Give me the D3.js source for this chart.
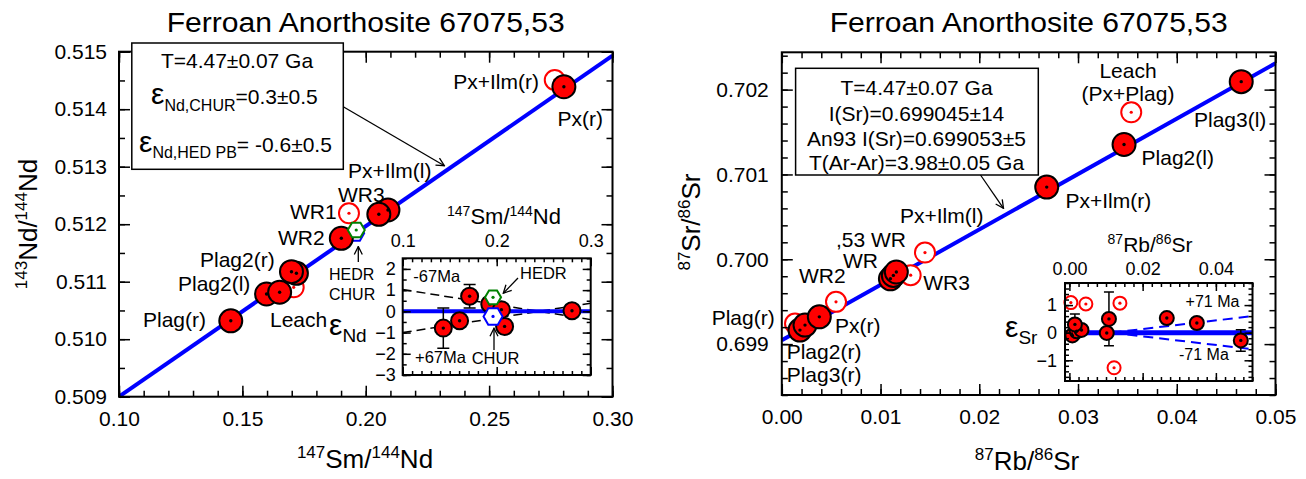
<!DOCTYPE html>
<html>
<head>
<meta charset="utf-8">
<script src="https://cdn.jsdelivr.net/npm/d3@7"></script>
<style>
  body { margin: 0; background: #fff; }
  svg text { font-family: "Liberation Sans", Arial, Helvetica, sans-serif; fill: #000; }
</style>
</head>
<body>
<svg id="chart" width="1306" height="479"></svg>
<script>
// ---- Sm-Nd panel data ----
const ndSlope = 0.02966;          // isochron slope (4.47 Ga)
const ndIntercept = 0.506034;     // 143Nd/144Nd at Sm/Nd = 0
const ndFilled = [                // [147Sm/144Nd, 143Nd/144Nd]
  [0.1453, 0.51032], [0.1598, 0.510786], [0.1651, 0.510816],
  [0.1719, 0.511146], [0.1699, 0.511174], [0.1901, 0.511755],
  [0.2090, 0.512247], [0.2053, 0.512172], [0.2803, 0.514391]
];
const ndOpen = [[0.1708, 0.510903], [0.1932, 0.51219], [0.2766, 0.514508]];
const ndChur = [0.1959, 0.511842];
const ndHedr = [0.19615, 0.511899];
// inset: epsilon Nd vs 147Sm/144Nd, [x, eps, err]
const epsNd = [
  [0.1432, -0.79, 0.95], [0.1605, -0.44, 0], [0.1712, 0.71, 0.55],
  [0.1926, 0.35, 0], [0.2050, 0.08, 0], [0.2084, -0.71, 0], [0.2801, 0.03, 0]
];
const epsNdChur = [0.1961, -0.24];
const epsNdHedr = [0.1961, 0.66];
const ndMinus67 = [[0.10, 1.03], [0.30, -0.39]];
const ndPlus67 = [[0.10, -1.0], [0.30, 0.38]];

// ---- Rb-Sr panel data ----
const srIntercept = 0.699045;
const srSlope = 0.0653;
const srFilled = [                // [87Rb/86Sr, 87Sr/86Sr]
  [0.00184, 0.699165], [0.00235, 0.699224], [0.0038, 0.699321],
  [0.0110, 0.69977], [0.0113, 0.69981], [0.0116, 0.69985],
  [0.02683, 0.700851], [0.03466, 0.701353], [0.04653, 0.702094]
];
const srOpen = [
  [0.00134, 0.699243], [0.00549, 0.699498], [0.01305, 0.699812],
  [0.0145, 0.700079], [0.03539, 0.701733]
];
const epsSrFilled = [
  [0.0008, -0.1, 0], [0.0020, 0.05, 0], [0.0033, 0.1, 0], [0.0015, 0.3, 0.38],
  [0.0102, -0.01, 0], [0.0108, 0.5, 0.97], [0.0266, 0.53, 0],
  [0.0348, 0.35, 0], [0.0468, -0.28, 0.39]
];
const epsSrOpen = [[0.0004, 1.09], [0.0045, 1.04], [0.0138, 1.07], [0.0122, -1.27]];
const srPlus71 = [[0.0115, 0], [0.05, 0.6]];
const srMinus71 = [[0.0115, 0], [0.05, -0.6]];

// ---- tick values ----
const ndXMajor = [0.10, 0.15, 0.20, 0.25, 0.30];
const ndYMajor = [0.509, 0.510, 0.511, 0.512, 0.513, 0.514, 0.515];
const srXMajor = [0.00, 0.01, 0.02, 0.03, 0.04, 0.05];
const srYMajor = [0.699, 0.700, 0.701, 0.702];
const ndInsetXMajor = [0.1, 0.2, 0.3];
const ndInsetYMajor = [-3, -2, -1, 0, 1, 2];
const srInsetXMajor = [0.00, 0.02, 0.04];
const srInsetYMajor = [-1, 0, 1];

const svg = d3.select("#chart");
svg.append("rect").attr("width", 1306).attr("height", 479).attr("fill", "#fff");

svg.append("defs").append("marker")
  .attr("id", "arrow").attr("viewBox", "0 0 10 10")
  .attr("refX", 9).attr("refY", 5)
  .attr("markerWidth", 10).attr("markerHeight", 10)
  .attr("markerUnits", "userSpaceOnUse").attr("orient", "auto")
  .append("path").attr("d", "M1,1 L9,5 L1,9")
  .attr("fill", "none").attr("stroke", "#000").attr("stroke-width", 1.3);

const RED = "#ff0000", BLUE = "#0000ff", GREEN = "#008000";

function range(a, b, step) {
  const n = Math.round((b - a) / step);
  return d3.range(n + 1).map(i => +(a + i * step).toFixed(6));
}

// text with super/subscripts; parts = [string, kind, fontSize]
function rich(g, x, y, parts, o) {
  const t = g.append("text").attr("x", x).attr("y", y)
    .attr("font-size", o.size).attr("text-anchor", o.anchor || "start");
  if (o.rotate) t.attr("transform", `rotate(-90,${x},${y})`);
  let shift = 0;
  parts.forEach(([s, k, fs]) => {
    const target = k === "sup" ? -o.size * 0.38 : k === "sub" ? o.size * 0.3 : 0;
    t.append("tspan").attr("dy", target - shift)
      .attr("font-size", fs || o.size).text(s);
    shift = target;
  });
  return t;
}

function label(g, x, y, s, size, anchor) {
  g.append("text").attr("x", x).attr("y", y).attr("font-size", size)
    .attr("text-anchor", anchor || "start").text(s);
}

// ticks on all four sides pointing inward, plus frame
function frame(g, x, y, o) {
  const [xl, xr] = x.range(), [yb, yt] = y.range();
  const sides = [
    { axis: d3.axisBottom, s: x, t: `translate(0,${yb})`, major: o.xMajor, minor: o.xMinor, lab: o.bottom },
    { axis: d3.axisTop, s: x, t: `translate(0,${yt})`, major: o.xMajor, minor: o.xMinor, lab: o.top },
    { axis: d3.axisLeft, s: y, t: `translate(${xl},0)`, major: o.yMajor, minor: o.yMinor, lab: o.left },
    { axis: d3.axisRight, s: y, t: `translate(${xr},0)`, major: o.yMajor, minor: o.yMinor, lab: o.right }
  ];
  sides.forEach(sd => {
    const horiz = sd.s === x;
    g.append("g").attr("transform", sd.t)
      .call(sd.axis(sd.s).tickValues(sd.minor).tickSize(-o.minorLen).tickFormat(""))
      .call(a => a.select(".domain").remove())
      .call(a => a.selectAll("line").attr("stroke-width", 1.5));
    const ax = g.append("g").attr("transform", sd.t)
      .attr("font-size", null).attr("font-family", null)
      .call(sd.axis(sd.s).tickValues(sd.major).tickSize(-o.majorLen)
        .tickPadding(horiz ? o.xPad : o.yPad)
        .tickFormat(sd.lab ? d3.format(horiz ? o.xFmt : o.yFmt) : ""))
      .call(a => a.select(".domain").remove())
      .call(a => a.selectAll("line").attr("stroke-width", 1.5));
    ax.selectAll("text").attr("font-size", o.fontSize).attr("fill", "#000");
  });
  g.append("rect").attr("x", xl).attr("y", yt).attr("width", xr - xl).attr("height", yb - yt)
    .attr("fill", "none").attr("stroke", "#000").attr("stroke-width", 2);
}

function filled(g, data, x, y, r) {
  g.selectAll(null).data(data).join("circle")
    .attr("cx", d => x(d[0])).attr("cy", d => y(d[1])).attr("r", r)
    .attr("fill", RED).attr("stroke", "#000").attr("stroke-width", 2);
  g.selectAll(null).data(data).join("circle")
    .attr("cx", d => x(d[0])).attr("cy", d => y(d[1])).attr("r", 1.7).attr("fill", "#000");
}

function open(g, data, x, y, r) {
  g.selectAll(null).data(data).join("circle")
    .attr("cx", d => x(d[0])).attr("cy", d => y(d[1])).attr("r", r)
    .attr("fill", "#fff").attr("stroke", RED).attr("stroke-width", 2);
  g.selectAll(null).data(data).join("circle")
    .attr("cx", d => x(d[0])).attr("cy", d => y(d[1])).attr("r", 1.6).attr("fill", RED);
}

function hexagon(g, p, x, y, r, color) {
  const cx = x(p[0]), cy = y(p[1]);
  const pts = d3.range(6).map(i => [cx + r * Math.cos(i * Math.PI / 3), cy + r * Math.sin(i * Math.PI / 3)]);
  g.append("path").attr("d", d3.line()(pts) + "Z")
    .attr("fill", "#fff").attr("stroke", color).attr("stroke-width", 2);
  g.append("circle").attr("cx", cx).attr("cy", cy).attr("r", 1.6).attr("fill", color);
}

function errorBars(g, data, x, y, cap) {
  data.filter(d => d[2] > 0).forEach(d => {
    const cx = x(d[0]), top = y(d[1] + d[2]), bot = y(d[1] - d[2]);
    g.append("path")
      .attr("d", `M${cx},${top}V${bot}M${cx - cap},${top}H${cx + cap}M${cx - cap},${bot}H${cx + cap}`)
      .attr("stroke", "#000").attr("stroke-width", 1.5).attr("fill", "none");
  });
}

function arrow(g, x1, y1, x2, y2) {
  g.append("line").attr("x1", x1).attr("y1", y1).attr("x2", x2).attr("y2", y2)
    .attr("stroke", "#000").attr("stroke-width", 1.3).attr("marker-end", "url(#arrow)");
}

function title(g, cx) {
  g.append("text").attr("x", cx).attr("y", 32).attr("font-size", 27)
    .attr("text-anchor", "middle").attr("textLength", 398).attr("lengthAdjust", "spacingAndGlyphs")
    .text("Ferroan Anorthosite 67075,53");
}

// =================== LEFT PANEL: Sm-Nd ===================
const L = svg.append("g");
const xNd = d3.scaleLinear().domain([0.10, 0.30]).range([119, 612.5]);
const yNd = d3.scaleLinear().domain([0.509, 0.515]).range([396.7, 51.7]);

title(L, 365.7);

L.append("path")
  .attr("d", d3.line()(xNd.domain().map(v => [xNd(v), yNd(ndIntercept + ndSlope * v)])))
  .attr("stroke", BLUE).attr("stroke-width", 4).attr("fill", "none");

open(L, ndOpen, xNd, yNd, 10);
hexagon(L, ndChur, xNd, yNd, 8.5, BLUE);
filled(L, ndFilled, xNd, yNd, 11.5);
hexagon(L, ndHedr, xNd, yNd, 8.5, GREEN);

frame(L, xNd, yNd, {
  xMajor: ndXMajor, xMinor: range(0.10, 0.30, 0.01),
  yMajor: ndYMajor, yMinor: range(0.509, 0.515, 0.0005),
  majorLen: 11, minorLen: 6, bottom: true, left: true,
  xFmt: ".2f", yFmt: ".3f", xPad: 14, yPad: 12, fontSize: 21
});

// point labels
[["Px+Ilm(r)", 539, 89, "end"], ["Px(r)", 557.6, 126], ["Px+Ilm(l)", 348, 177.5],
 ["WR3", 338, 201.5], ["WR1", 290, 218.5], ["WR2", 278, 244.5], ["Plag2(r)", 200, 266.7],
 ["Plag2(l)", 178, 291], ["Plag(r)", 143, 326.7], ["Leach", 270, 326.7]]
  .forEach(([s, x, y, a]) => label(L, x, y, s, 21, a));
label(L, 329, 280, "HEDR", 16);
label(L, 329, 300, "CHUR", 16);
arrow(L, 358.3, 262, 358.3, 246.5);

// parameter box
L.append("rect").attr("x", 131.8).attr("y", 43).attr("width", 211.5).attr("height", 126.3)
  .attr("fill", "#fff").attr("stroke", "#000").attr("stroke-width", 1.5);
label(L, 237, 68.3, "T=4.47±0.07 Ga", 21, "middle");
rich(L, 151, 104.3, [["ε", "", 30], ["Nd,CHUR", "sub", 16], ["=0.3±0.5", "", 21]], { size: 21 });
rich(L, 139, 151.7, [["ε", "", 30], ["Nd,HED PB", "sub", 16], ["= -0.6±0.5", "", 21]], { size: 21 });
arrow(L, 343.3, 106.7, 444.4, 165.7);

// axis titles
rich(L, 365, 468, [["147", "sup", 17], ["Sm/", ""], ["144", "sup", 17], ["Nd", ""]], { size: 26, anchor: "middle" });
rich(L, 37, 224, [["143", "sup", 17], ["Nd/", ""], ["144", "sup", 17], ["Nd", ""]], { size: 26, anchor: "middle", rotate: true });

// ---- inset: epsilon Nd ----
const xNdI = d3.scaleLinear().domain([0.1, 0.3]).range([402.7, 590.7]);
const yNdI = d3.scaleLinear().domain([-3, 2.5]).range([375, 258.3]);
L.append("rect").attr("x", 402.7).attr("y", 258.3).attr("width", 188).attr("height", 116.7).attr("fill", "#fff");
[ndMinus67, ndPlus67].forEach(seg => L.append("path")
  .attr("d", d3.line()(seg.map(d => [xNdI(d[0]), yNdI(d[1])])))
  .attr("stroke", "#000").attr("stroke-width", 1.5).attr("stroke-dasharray", "9,5").attr("fill", "none"));
L.append("line").attr("x1", xNdI(0.1)).attr("x2", xNdI(0.3)).attr("y1", yNdI(0)).attr("y2", yNdI(0))
  .attr("stroke", BLUE).attr("stroke-width", 4);
errorBars(L, epsNd, xNdI, yNdI, 6);
filled(L, epsNd, xNdI, yNdI, 8.5);
hexagon(L, epsNdChur, xNdI, yNdI, 9.5, BLUE);
hexagon(L, epsNdHedr, xNdI, yNdI, 8, GREEN);
frame(L, xNdI, yNdI, {
  xMajor: ndInsetXMajor, xMinor: range(0.1, 0.3, 0.01),
  yMajor: ndInsetYMajor, yMinor: range(-3, 2.5, 0.5),
  majorLen: 8, minorLen: 4, top: true, left: true,
  xFmt: ".1f", yFmt: "d", xPad: 11, yPad: 7, fontSize: 18
});
label(L, 413.3, 281.7, "-67Ma", 16.5);
label(L, 415, 363.3, "+67Ma", 16.5);
label(L, 520, 279.3, "HEDR", 16.5);
label(L, 471.7, 364, "CHUR", 16.5);
arrow(L, 518, 278, 503.3, 293.3);
arrow(L, 494, 350, 494, 328.3);
rich(L, 504, 224, [["147", "sup", 14], ["Sm/", ""], ["144", "sup", 14], ["Nd", ""]], { size: 22, anchor: "middle" });
rich(L, 329, 335, [["ε", "", 30], ["Nd", "sub", 19]], { size: 24 });

// =================== RIGHT PANEL: Rb-Sr ===================
const R = svg.append("g");
const xSr = d3.scaleLinear().domain([0, 0.05]).range([781.8, 1275.5]);
const ySr = d3.scaleLinear().domain([0.6984, 0.70244]).range([395, 52.3]);

title(R, 1028.7);

R.append("path")
  .attr("d", d3.line()(xSr.domain().map(v => [xSr(v), ySr(srIntercept + srSlope * v)])))
  .attr("stroke", BLUE).attr("stroke-width", 4).attr("fill", "none");

open(R, srOpen, xSr, ySr, 10);
filled(R, srFilled, xSr, ySr, 11.5);

frame(R, xSr, ySr, {
  xMajor: srXMajor, xMinor: range(0, 0.05, 0.002),
  yMajor: srYMajor, yMinor: range(0.6984, 0.7024, 0.0002),
  majorLen: 11, minorLen: 6, bottom: true, left: true,
  xFmt: ".2f", yFmt: ".3f", xPad: 14, yPad: 13, fontSize: 21
});

[["Leach", 1128, 78, "middle"], ["(Px+Plag)", 1128, 101, "middle"], ["Plag3(l)", 1194, 127],
 ["Plag2(l)", 1141.6, 165], ["Px+Ilm(r)", 1065.5, 208.3], ["Px+Ilm(l)", 900, 223.3],
 [",53 WR", 836, 246.7], ["WR", 843, 268.3], ["WR2", 799, 283.3], ["WR3", 923.3, 290],
 ["Px(r)", 835, 333.3], ["Plag(r)", 774.7, 325, "end"], ["Plag2(r)", 786.7, 359], ["Plag3(r)", 786.7, 381.7]]
  .forEach(([s, x, y, a]) => label(R, x, y, s, 21, a));

R.append("rect").attr("x", 795.6).attr("y", 68.3).attr("width", 242.7).attr("height", 106.7)
  .attr("fill", "#fff").attr("stroke", "#000").attr("stroke-width", 1.5);
[["T=4.47±0.07 Ga", 95], ["I(Sr)=0.699045±14", 120.5], ["An93 I(Sr)=0.699053±5", 146], ["T(Ar-Ar)=3.98±0.05 Ga", 170]]
  .forEach(([s, y]) => label(R, 916.5, y, s, 21, "middle"));
arrow(R, 980.5, 175, 1003.5, 208.3);

rich(R, 1027, 470, [["87", "sup", 17], ["Rb/", ""], ["86", "sup", 17], ["Sr", ""]], { size: 26, anchor: "middle" });
rich(R, 700, 222, [["87", "sup", 17], ["Sr/", ""], ["86", "sup", 17], ["Sr", ""]], { size: 26, anchor: "middle", rotate: true });

// ---- inset: epsilon Sr ----
const xSrI = d3.scaleLinear().domain([-0.0012, 0.05]).range([1065, 1252.5]);
const ySrI = d3.scaleLinear().domain([-1.75, 1.8]).range([381, 283]);
R.append("rect").attr("x", 1065).attr("y", 283).attr("width", 187.5).attr("height", 98).attr("fill", "#fff");
[srPlus71, srMinus71].forEach(seg => R.append("path")
  .attr("d", d3.line()(seg.map(d => [xSrI(d[0]), ySrI(d[1])])))
  .attr("stroke", BLUE).attr("stroke-width", 2).attr("stroke-dasharray", "10,6").attr("fill", "none"));
R.append("line").attr("x1", xSrI(-0.0012)).attr("x2", xSrI(0.05)).attr("y1", ySrI(0)).attr("y2", ySrI(0))
  .attr("stroke", BLUE).attr("stroke-width", 5);
open(R, epsSrOpen, xSrI, ySrI, 6.5);
errorBars(R, epsSrFilled, xSrI, ySrI, 5);
filled(R, epsSrFilled, xSrI, ySrI, 7);
frame(R, xSrI, ySrI, {
  xMajor: srInsetXMajor, xMinor: range(0, 0.05, 0.0025),
  yMajor: srInsetYMajor, yMinor: range(-1.6, 1.8, 0.2),
  majorLen: 8, minorLen: 4, top: true, left: true,
  xFmt: ".2f", yFmt: "d", xPad: 8, yPad: 8, fontSize: 18
});
label(R, 1185.6, 307.3, "+71 Ma", 16);
label(R, 1179, 360, "-71 Ma", 16);
rich(R, 1150, 251.7, [["87", "sup", 14], ["Rb/", ""], ["86", "sup", 14], ["Sr", ""]], { size: 21, anchor: "middle" });
rich(R, 1005, 336.7, [["ε", "", 30], ["Sr", "sub", 19]], { size: 24 });
</script>
</body>
</html>
